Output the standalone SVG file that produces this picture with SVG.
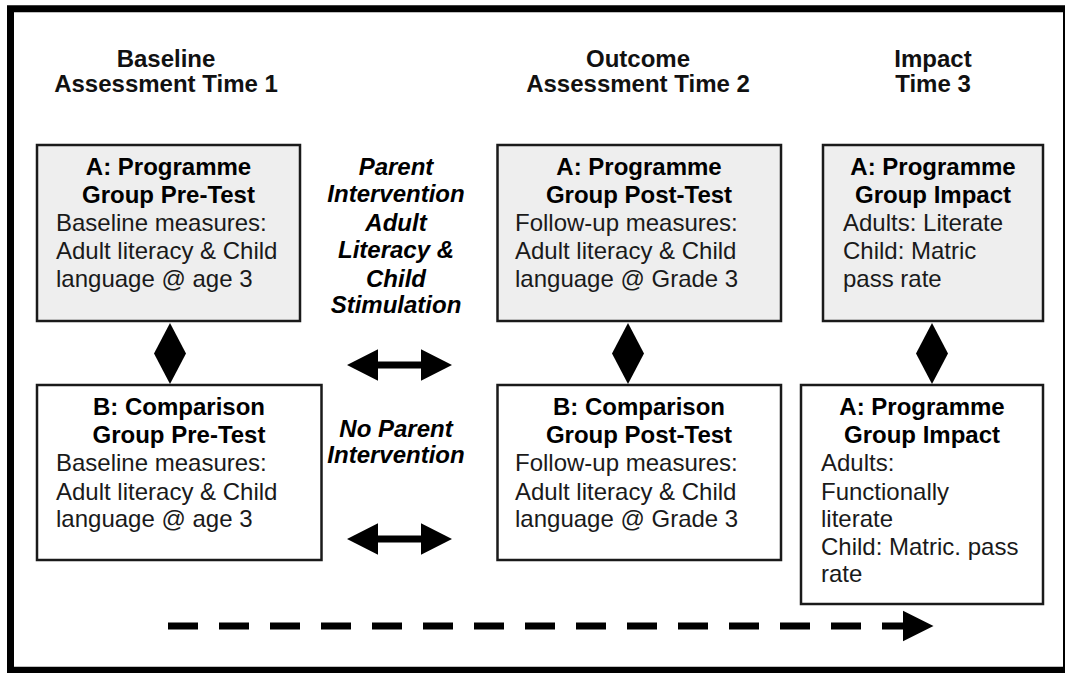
<svg xmlns="http://www.w3.org/2000/svg" width="1065" height="673" viewBox="0 0 1065 673">
<defs>
<style>
.frame{fill:none;stroke:#000;stroke-width:7}
.box{stroke:#1a1a1a;stroke-width:2.5}
.grey{fill:#eeeeee}
.white{fill:#ffffff}
.hdr{font-family:"Liberation Sans",Arial,sans-serif;font-size:24px;font-weight:bold;fill:#111;text-anchor:middle}
.ttl{font-family:"Liberation Sans",Arial,sans-serif;font-size:24px;font-weight:bold;fill:#000;text-anchor:middle}
.body{font-family:"Liberation Sans",Arial,sans-serif;font-size:24px;fill:#1a1a1a}
.mid{font-family:"Liberation Sans",Arial,sans-serif;font-size:24px;font-weight:bold;font-style:italic;fill:#000;text-anchor:middle}
.solid{fill:#000}
</style>
</defs>
<rect x="0" y="0" width="1065" height="673" fill="#ffffff"/>
<rect class="frame" x="10.5" y="8.75" width="1056" height="661.5"/>

<g id="headers">
<text class="hdr" x="166" y="67">Baseline</text>
<text class="hdr" x="166" y="92">Assessment Time 1</text>
<text class="hdr" x="638" y="67">Outcome</text>
<text class="hdr" x="638" y="92">Assessment Time 2</text>
<text class="hdr" x="933" y="67">Impact</text>
<text class="hdr" x="933" y="92">Time 3</text>
</g>

<g id="nodeA1">
<rect class="box grey" x="37" y="145" width="263" height="176"/>
<text class="ttl" x="168.5" y="175">A: Programme</text>
<text class="ttl" x="168.5" y="203">Group Pre-Test</text>
<text class="body" x="56" y="231">Baseline measures:</text>
<text class="body" x="56" y="259">Adult literacy &amp; Child</text>
<text class="body" x="56" y="287">language @ age 3</text>
</g>

<g id="nodeA2">
<rect class="box grey" x="497.5" y="145" width="283.5" height="176"/>
<text class="ttl" x="639" y="175">A: Programme</text>
<text class="ttl" x="639" y="203">Group Post-Test</text>
<text class="body" x="515" y="231">Follow-up measures:</text>
<text class="body" x="515" y="259">Adult literacy &amp; Child</text>
<text class="body" x="515" y="287">language @ Grade 3</text>
</g>

<g id="nodeA3">
<rect class="box grey" x="823" y="145" width="220" height="176"/>
<text class="ttl" x="933" y="175">A: Programme</text>
<text class="ttl" x="933" y="203">Group Impact</text>
<text class="body" x="843" y="231">Adults: Literate</text>
<text class="body" x="843" y="259">Child: Matric</text>
<text class="body" x="843" y="287">pass rate</text>
</g>

<g id="nodeB1">
<rect class="box white" x="37" y="385" width="284.5" height="175"/>
<text class="ttl" x="179" y="415">B: Comparison</text>
<text class="ttl" x="179" y="443">Group Pre-Test</text>
<text class="body" x="56" y="471">Baseline measures:</text>
<text class="body" x="56" y="500">Adult literacy &amp; Child</text>
<text class="body" x="56" y="527">language @ age 3</text>
</g>

<g id="nodeB2">
<rect class="box white" x="497.5" y="385" width="283.5" height="175"/>
<text class="ttl" x="639" y="415">B: Comparison</text>
<text class="ttl" x="639" y="443">Group Post-Test</text>
<text class="body" x="515" y="471">Follow-up measures:</text>
<text class="body" x="515" y="500">Adult literacy &amp; Child</text>
<text class="body" x="515" y="527">language @ Grade 3</text>
</g>

<g id="nodeB3">
<rect class="box white" x="801" y="385" width="242" height="219"/>
<text class="ttl" x="922" y="415">A: Programme</text>
<text class="ttl" x="922" y="443">Group Impact</text>
<text class="body" x="821" y="471">Adults:</text>
<text class="body" x="821" y="500">Functionally</text>
<text class="body" x="821" y="527">literate</text>
<text class="body" x="821" y="555">Child: Matric. pass</text>
<text class="body" x="821" y="582">rate</text>
</g>

<g id="labels">
<text class="mid" x="396" y="175">Parent</text>
<text class="mid" x="396" y="202">Intervention</text>
<text class="mid" x="396" y="231">Adult</text>
<text class="mid" x="396" y="258">Literacy &amp;</text>
<text class="mid" x="396" y="287">Child</text>
<text class="mid" x="396" y="313">Stimulation</text>
<text class="mid" x="396" y="437">No Parent</text>
<text class="mid" x="396" y="463">Intervention</text>
</g>

<g id="connectors">
<polygon class="solid" points="170,323 186,353.5 170,384 154,353.5"/>
<polygon class="solid" points="628,323 644,353.5 628,384 612,353.5"/>
<polygon class="solid" points="932,323 948,353.5 932,384 916,353.5"/>
<polygon class="solid" points="347,365 378,349.3 378,361.5 421,361.5 421,349.3 452,365 421,380.7 421,368.5 378,368.5 378,380.7"/>
<polygon class="solid" points="347,539 378,523.3 378,535.5 421,535.5 421,523.3 452,539 421,554.7 421,542.5 378,542.5 378,554.7"/>
<line x1="168" y1="626" x2="905" y2="626" stroke="#000" stroke-width="7" stroke-dasharray="30 21"/>
<polygon class="solid" points="903,610.7 933.5,626 903,641.3"/>
</g>
</svg>
